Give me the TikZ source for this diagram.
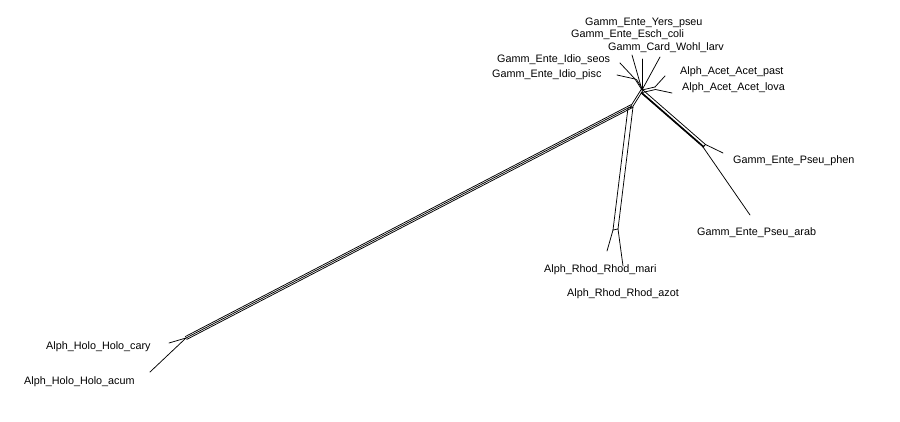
\documentclass[tikz,border=0pt]{standalone}
\usepackage{fontspec}
\setmainfont{Liberation Sans}
\usepackage{tikz}
\usetikzlibrary{calc, positioning}

\begin{document}
\begin{tikzpicture}[
  x=1pt, y=-1pt,
  taxon/.style={anchor=west, inner sep=0pt, font=\fontsize{10.8}{12}\selectfont},
  branch/.style={draw, line width=0.75pt, line cap=round}
]
\useasboundingbox (0,0) rectangle (900,422);

% split points of the network
\coordinate (hub) at (642,90);
\coordinate (junc) at (632,106);
\coordinate (holoS) at (186,338);
\coordinate (idioS) at (635,79);
\coordinate (acetS) at (655,87);
\coordinate (rhodA) at (628,108);
\coordinate (rhodB) at (633,107);
\coordinate (rhodA2) at (613,230);
\coordinate (rhodB2) at (618,229);
\coordinate (pseuA) at (643.5,90.5);
\coordinate (pseuB) at (641,93);
\coordinate (pseuA2) at (705.5,144.5);
\coordinate (pseuB2) at (703,147);

% leaf ends
\coordinate (yersL) at (660,57);
\coordinate (eschL) at (642,59);
\coordinate (wohlL) at (632,55);
\coordinate (seosL) at (620,63);
\coordinate (piscL) at (617,75);
\coordinate (pastL) at (665,76);
\coordinate (lovaL) at (672,93);
\coordinate (phenL) at (723,153);
\coordinate (arabL) at (750,215);
\coordinate (mariL) at (607,251);
\coordinate (azotL) at (623,266);
\coordinate (caryL) at (169,343);
\coordinate (acumL) at (150,372);

% taxa
\node[taxon] (yers) at (585,23) {Gamm\_Ente\_Yers\_pseu};
\node[taxon] (esch) at (571,35) {Gamm\_Ente\_Esch\_coli};
\node[taxon] (wohl) at (608,48) {Gamm\_Card\_Wohl\_larv};
\node[taxon] (seos) at (497,60) {Gamm\_Ente\_Idio\_seos};
\node[taxon] (pisc) at (492,75) {Gamm\_Ente\_Idio\_pisc};
\node[taxon] (past) at (680,72) {Alph\_Acet\_Acet\_past};
\node[taxon] (lova) at (682,88) {Alph\_Acet\_Acet\_lova};
\node[taxon] (phen) at (733,161) {Gamm\_Ente\_Pseu\_phen};
\node[taxon] (arab) at (697,233) {Gamm\_Ente\_Pseu\_arab};
\node[taxon] (mari) at (544,270) {Alph\_Rhod\_Rhod\_mari};
\node[taxon] (azot) at (567,294) {Alph\_Rhod\_Rhod\_azot};
\node[taxon] (cary) at (46,347) {Alph\_Holo\_Holo\_cary};
\node[taxon] (acum) at (24,382) {Alph\_Holo\_Holo\_acum};

% long Holo bundle
\foreach \d in {-1.6,0,1.6}
  \path[branch] ($(junc)+(0.46*\d,0.89*\d)$) -- ($(holoS)+(0.46*\d,0.89*\d)$);
\foreach \d in {-1,1}
  \path[branch] ($(hub)+(0.85*\d,0.5*\d)$) -- ($(junc)+(0.85*\d,0.5*\d)$);

% Rhod bundle
\path[branch] (rhodA) -- (rhodA2);
\path[branch] (rhodB) -- (rhodB2);
\path[branch] (rhodA) -- (rhodB);
\path[branch] (rhodA2) -- (rhodB2);

% Pseu bundle
\path[branch] (pseuA) -- (pseuA2);
\path[branch] (pseuB) -- (pseuB2);
\path[branch, line width=1.3pt] ($(pseuB)+(0.8,-0.2)$) -- ($(pseuB2)+(0.8,-0.2)$);
\path[branch] (pseuA2) -- (pseuB2);

% small splits near the hub
\path[branch] (hub) -- (idioS);
\path[branch] ($(hub)+(1.5,0.5)$) -- ($(idioS)+(1.5,0.5)$);
\path[branch] (hub) -- (acetS);
\path[branch] ($(hub)+(0.5,2.5)$) -- ($(acetS)+(0.5,2.5)$);

% leaves
\path[branch] (hub) -- (yersL);
\path[branch] (hub) -- (eschL);
\path[branch] (hub) -- (wohlL);
\path[branch] (idioS) -- (seosL);
\path[branch] (idioS) -- (piscL);
\path[branch] (acetS) -- (pastL);
\path[branch] ($(acetS)+(0.5,2.5)$) -- (lovaL);
\path[branch] (pseuA2) -- (phenL);
\path[branch] (pseuB2) -- (arabL);
\path[branch] (rhodA2) -- (mariL);
\path[branch] (rhodB2) -- (azotL);
\path[branch] (holoS) -- (caryL);
\path[branch] (holoS) -- (acumL);
\end{tikzpicture}
\end{document}
